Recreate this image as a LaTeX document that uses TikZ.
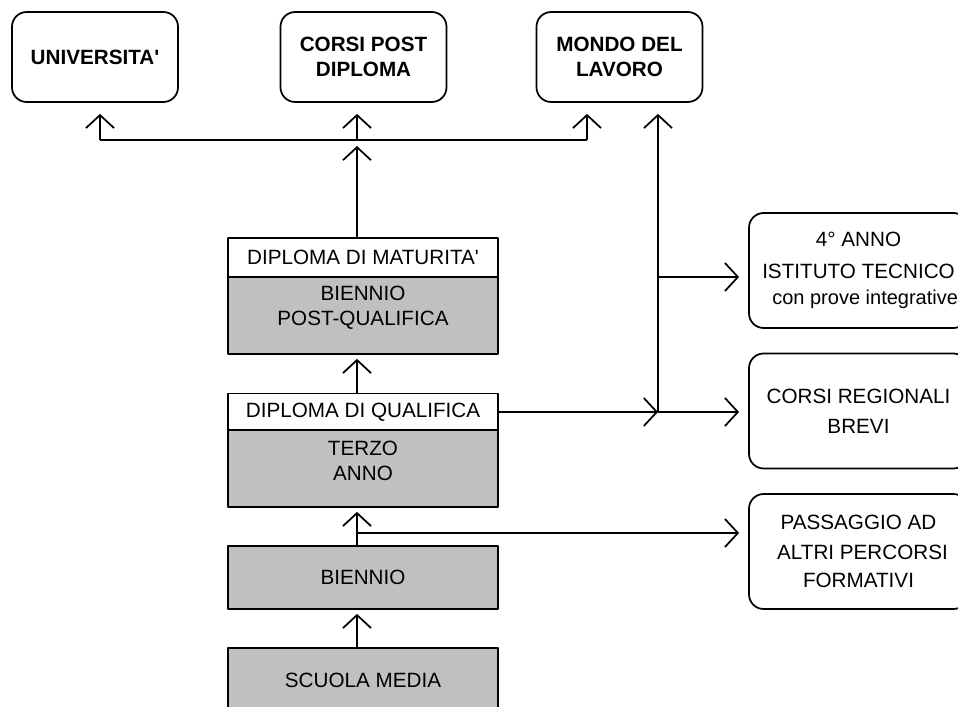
\documentclass[tikz,border=0pt]{standalone}
\usepackage{fontspec}
\setmainfont{Liberation Sans}
\usetikzlibrary{arrows.meta}
\definecolor{grigio}{HTML}{C0C0C0}
\newcommand{\testo}{\fontsize{15.5}{18.75}\selectfont}
\newcommand{\piccolo}{\fontsize{15}{17}\selectfont}
\tikzset{
	esito/.style={draw, line width=1.3pt, rounded corners=11pt, align=center,
		minimum width=124.5pt, minimum height=67.5pt, font=\testo\bfseries},
	meta/.style={draw, line width=1.3pt, rounded corners=11pt, align=center,
		minimum width=164.25pt, minimum height=86.25pt, font=\testo},
	titolo/.style={draw, line width=1.3pt, fill=white, align=center,
		minimum width=202.5pt, font=\testo},
	anno/.style={titolo, fill=grigio},
	freccia/.style={line width=1.3pt, -{Straight Barb[length=9.75pt,width=21pt]}}
}
\begin{document}
\begin{tikzpicture}[x=0.75pt, y=-0.75pt, line join=round]
	\useasboundingbox (0,0) rectangle (958,707);
	% sbocchi
	\node[esito] (uni) at (95,57) {UNIVERSITA\textquotesingle};
	\node[esito] (post) at (363.5,57) {CORSI POST\\DIPLOMA};
	\node[esito] (lavoro) at (619.5,57) {MONDO DEL\\LAVORO};
	% percorso
	\node[titolo, minimum height=29.25pt] (matur) at (363,257.5) {DIPLOMA DI MATURITA\textquotesingle};
	\node[anno, minimum height=57.75pt, text depth=14pt] (bpq) at (363,315.5) {BIENNIO\\POST-QUALIFICA};
	\node[titolo, minimum height=27.75pt] (qual) at (363,412) {DIPLOMA DI QUALIFICA};
	\node[anno, minimum height=57.75pt, text depth=12pt] (terzo) at (363,468.5) {TERZO\\ANNO};
	\node[anno, minimum height=47.25pt] (bien) at (363,577.5) {BIENNIO};
	\node[anno, minimum height=48pt] (media) at (363,680) {SCUOLA MEDIA};
	% alternative
	\node[meta] (anno4) at (858.5,270.5) {4° ANNO\\[5pt]ISTITUTO TECNICO\\[1pt]{\piccolo\hspace*{10pt}con prove integrative}};
	\node[meta] (reg) at (858.5,411) {CORSI REGIONALI\\[4pt]BREVI};
	\node[meta] (pass) at (858.5,551.5) {PASSAGGIO AD\\[3.5pt]\hspace*{6pt}ALTRI PERCORSI\\[2pt]FORMATIVI};
	% snodi
	\coordinate (hub) at (357,140);
	\coordinate (hubL) at (100,140);
	\coordinate (hubR) at (587,140);
	\coordinate (split) at (658,412);
	\coordinate (branch) at (658,277);
	\coordinate (fork) at (357,533);
	\draw[line width=1.3pt] (hubL) -- (hubR);
	\draw[freccia, shorten >=8.25pt] (hubL) -- (uni.south -| hubL);
	\draw[freccia, shorten >=8.25pt] (hub) -- (post.south -| hub);
	\draw[freccia, shorten >=8.25pt] (hubR) -- (lavoro.south -| hubR);
	\draw[freccia, shorten >=4.5pt] (matur.north -| hub) -- (hub);
	\draw[freccia, shorten >=3pt] (qual.north -| hub) -- (bpq.south -| hub);
	\draw[freccia, shorten >=3pt] (bien.north -| hub) -- (terzo.south -| hub);
	\draw[freccia, shorten >=3pt] (media.north -| hub) -- (bien.south -| hub);
	\draw[freccia, shorten >=6.75pt] (fork) -- (pass.west |- fork);
	\draw[freccia] (qual.east) -- (split);
	\draw[freccia, shorten >=6.75pt] (split) -- (reg.west |- split);
	\draw[freccia, shorten >=8.25pt] (split) -- (lavoro.south -| split);
	\draw[freccia, shorten >=6.75pt] (branch) -- (anno4.west |- branch);
\end{tikzpicture}
\end{document}
